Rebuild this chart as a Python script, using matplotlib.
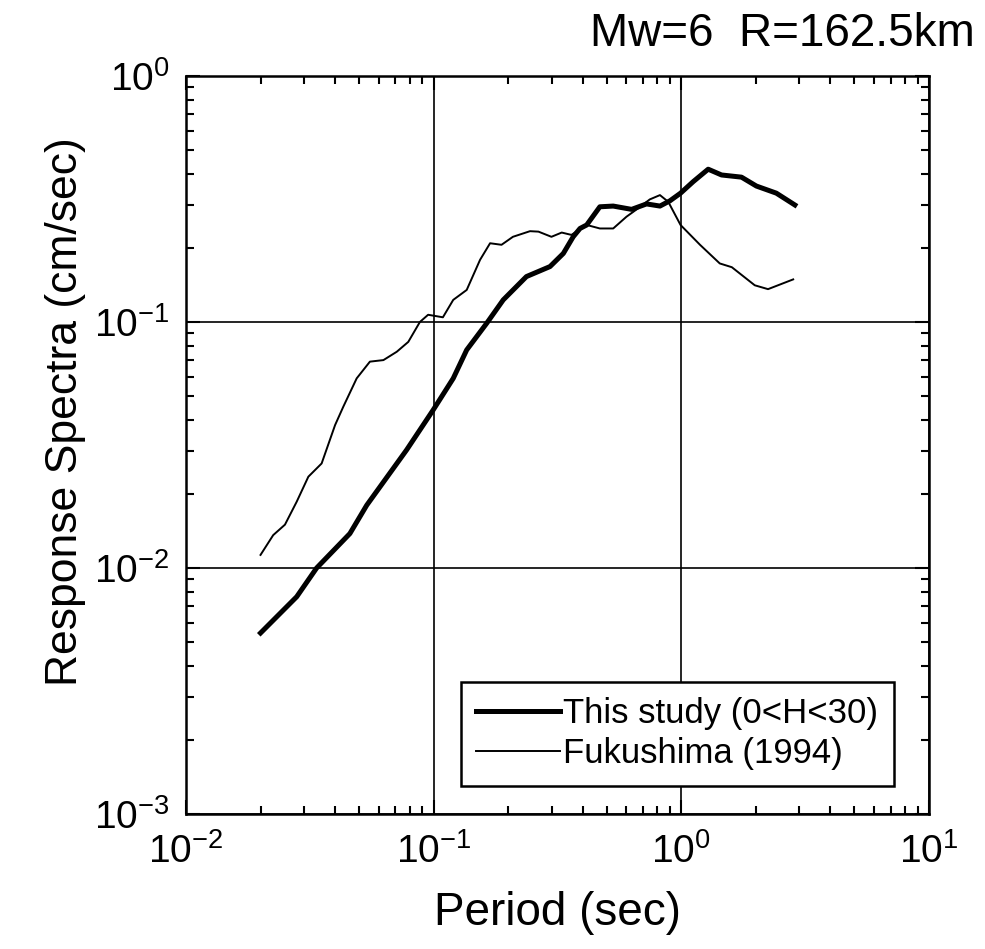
import matplotlib
matplotlib.use('Agg')
import matplotlib.pyplot as plt
from matplotlib.ticker import LogLocator, NullFormatter

plt.rcParams['font.family'] = ['Liberation Sans', 'DejaVu Sans']
plt.rcParams['mathtext.fontset'] = 'custom'
plt.rcParams['mathtext.rm'] = 'Liberation Sans'

# This study (0<H<30)
period_study = [0.020, 0.028, 0.0337, 0.0459, 0.0537, 0.0778, 0.0996, 0.12, 0.136,
                0.164, 0.191, 0.237, 0.295, 0.334, 0.366, 0.39, 0.415, 0.469, 0.531,
                0.63, 0.724, 0.82, 0.90, 0.993, 1.117, 1.284, 1.454, 1.75, 2.01,
                2.42, 2.875]
sa_study = [0.00544, 0.00764, 0.0100, 0.0138, 0.0180, 0.0302, 0.0439, 0.059, 0.077,
            0.099, 0.123, 0.153, 0.168, 0.190, 0.222, 0.240, 0.248, 0.294, 0.296,
            0.287, 0.302, 0.296, 0.311, 0.334, 0.372, 0.418, 0.396, 0.388, 0.357,
            0.334, 0.299]

# Fukushima (1994)
period_fuku = [0.020, 0.0225, 0.0251, 0.028, 0.0312, 0.0353, 0.040, 0.0432, 0.0489,
               0.0553, 0.0627, 0.071, 0.079, 0.088, 0.095, 0.109, 0.12, 0.136, 0.154,
               0.169, 0.188, 0.209, 0.245, 0.265, 0.299, 0.329, 0.36, 0.415, 0.469,
               0.531, 0.601, 0.67, 0.746, 0.82, 0.886, 0.993, 1.19, 1.43, 1.60, 1.98,
               2.24, 2.83]
sa_fuku = [0.0113, 0.0136, 0.0150, 0.0186, 0.0235, 0.0266, 0.0381, 0.0453, 0.059,
           0.069, 0.070, 0.0757, 0.083, 0.100, 0.107, 0.1045, 0.123, 0.135, 0.179,
           0.209, 0.206, 0.222, 0.234, 0.233, 0.222, 0.231, 0.226, 0.248, 0.240,
           0.240, 0.268, 0.290, 0.315, 0.328, 0.308, 0.248, 0.206, 0.173, 0.167,
           0.141, 0.136, 0.149]

fig = plt.figure(figsize=(9.85, 9.49), dpi=100)
ax = fig.add_axes([0.1888, 0.1423, 0.7543, 0.7776])

ax.plot(period_study, sa_study, color='black', linewidth=3.6, label='This study (0<H<30)')
ax.plot(period_fuku, sa_fuku, color='black', linewidth=1.4, label='Fukushima (1994)')

ax.set_xscale('log')
ax.set_yscale('log')
ax.set_xlim(1e-2, 1e1)
ax.set_ylim(1e-3, 1e0)

ax.xaxis.set_major_locator(LogLocator(base=10, numticks=10))
ax.yaxis.set_major_locator(LogLocator(base=10, numticks=10))
ax.xaxis.set_minor_locator(LogLocator(base=10, subs=range(2, 10), numticks=20))
ax.yaxis.set_minor_locator(LogLocator(base=10, subs=range(2, 10), numticks=20))
ax.xaxis.set_minor_formatter(NullFormatter())
ax.yaxis.set_minor_formatter(NullFormatter())

ax.tick_params(which='both', direction='in', top=True, right=True, width=1.5)
ax.tick_params(which='major', length=10, labelsize=28)
ax.tick_params(axis='x', which='major', pad=14)
ax.tick_params(axis='y', which='major', pad=12)
ax.tick_params(which='minor', length=6)
for s in ax.spines.values():
    s.set_linewidth(1.8)

ax.grid(True, which='major', color='black', linewidth=1.2)

ax.set_xlabel('Period (sec)', fontsize=33, labelpad=14)
ax.set_ylabel('Response Spectra (cm/sec)', fontsize=32)
ax.yaxis.set_label_coords(-0.135, 0.545)

leg = ax.legend(loc='upper left', bbox_to_anchor=(0.370, 0.179), fontsize=25,
                frameon=True, fancybox=False, edgecolor='black', framealpha=1,
                handlelength=2.4, handletextpad=0.1, borderpad=0.45,
                labelspacing=0.2, borderaxespad=0)
leg.get_frame().set_linewidth(1.8)

fig.text(0.99, 0.964, 'Mw=6  R=162.5km', ha='right', va='center', fontsize=33)

fig.savefig('out.png', dpi=100)
